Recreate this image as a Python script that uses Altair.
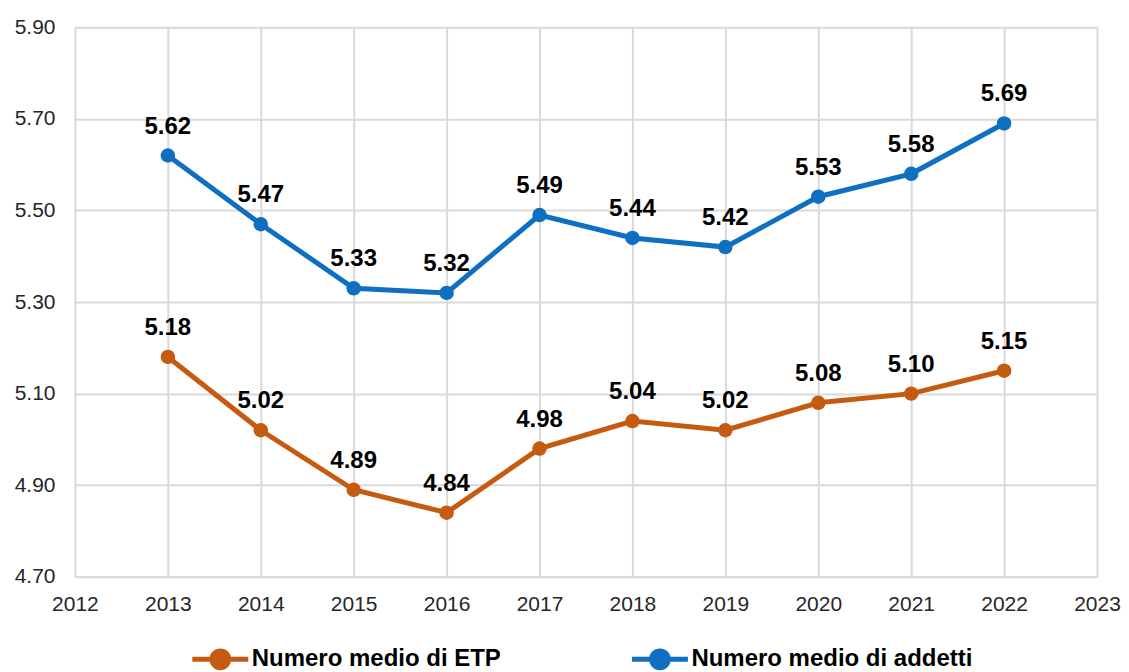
import altair as alt
import pandas as pd

years = [2013, 2014, 2015, 2016, 2017, 2018, 2019, 2020, 2021, 2022]
etp = [5.18, 5.02, 4.89, 4.84, 4.98, 5.04, 5.02, 5.08, 5.10, 5.15]
addetti = [5.62, 5.47, 5.33, 5.32, 5.49, 5.44, 5.42, 5.53, 5.58, 5.69]
series_names = ["Numero medio di ETP", "Numero medio di addetti"]
series_colors = ["#C55A11", "#0F6FC1"]
x_ticks = list(range(2012, 2024))
y_ticks = [4.70, 4.90, 5.10, 5.30, 5.50, 5.70, 5.90]

rows = []
for name, vals in zip(series_names, [etp, addetti]):
    for yr, v in zip(years, vals):
        rows.append({"anno": yr, "valore": v, "serie": name})
df = pd.DataFrame(rows)

FONT = "Arial, Liberation Sans, sans-serif"

x = alt.X("anno:Q",
          scale=alt.Scale(domain=[2012, 2023], nice=False, zero=False),
          axis=alt.Axis(values=x_ticks, format="d", title=None, labelFontSize=21,
                        labelFont=FONT, labelColor="#262626", labelPadding=17,
                        ticks=False, domain=False, grid=True, gridColor="#D9D9D9",
                        gridWidth=2, labelFlush=False))
y = alt.Y("valore:Q",
          scale=alt.Scale(domain=[4.70, 5.90], nice=False, zero=False),
          axis=alt.Axis(values=y_ticks, format=".2f", title=None, labelFontSize=21,
                        labelFont=FONT, labelColor="#262626", labelPadding=20,
                        ticks=False, domain=False, grid=True, gridColor="#D9D9D9",
                        gridWidth=2, labelFlush=False))

sym_path = ("M-1,0L1,0M0.3,0A0.3,0.3,0,1,1,-0.3,0"
            "A0.3,0.3,0,1,1,0.3,0Z")

legend = alt.Legend(title=None, orient="none", direction="horizontal",
                    legendX=115, legendY=602, symbolType=sym_path, symbolSize=3136,
                    symbolStrokeWidth=5, labelFontSize=24, labelFont=FONT,
                    labelFontWeight="bold", labelColor="#000000", labelOffset=1,
                    columnPadding=120, labelLimit=500)

cscale = alt.Scale(domain=series_names, range=series_colors)

base = alt.Chart(df)

lines = base.mark_line(strokeWidth=5).encode(
    x=x, y=y,
    stroke=alt.Stroke("serie:N", scale=cscale, legend=legend),
)
points = base.mark_point(filled=True, size=210, opacity=1, strokeWidth=0).encode(
    x=x, y=y,
    fill=alt.Fill("serie:N", scale=cscale, legend=legend),
    stroke=alt.Stroke("serie:N", scale=cscale, legend=legend),
)
labels = base.mark_text(fontSize=24, fontWeight="bold", font=FONT, color="#000000",
                        baseline="alphabetic", dy=-22).encode(
    x=x, y=y, text=alt.Text("valore:Q", format=".2f"),
)

chart = alt.layer(lines, points, labels).properties(
    width=1023, height=550,
    autosize=alt.AutoSizeParams(type="none"),
    padding={"left": 67, "top": 19, "right": 24, "bottom": 100},
).configure_view(stroke=None).configure(background="white")

chart.save("out.html", embed_options={"renderer": "svg", "actions": False})
